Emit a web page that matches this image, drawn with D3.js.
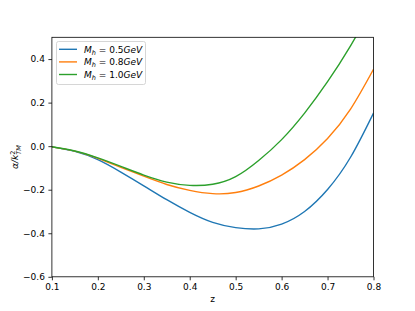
<!DOCTYPE html>
<html><head><meta charset="utf-8">
<script src="https://cdn.jsdelivr.net/npm/d3@7"></script>
<style>body{margin:0;background:#fff}svg{display:block}text{font-family:"DejaVu Sans",sans-serif}</style>
</head><body>
<script>
const zGrid   = [0.10,0.15,0.20,0.25,0.30,0.35,0.40,0.45,0.50,0.55,0.60,0.65,0.70,0.75,0.80];
const vBlue   = [-0.003,-0.024,-0.062,-0.119,-0.182,-0.246,-0.304,-0.350,-0.374,-0.380,-0.358,-0.300,-0.199,-0.051,0.152];
const vOrange = [-0.003,-0.023,-0.056,-0.097,-0.138,-0.176,-0.203,-0.218,-0.213,-0.183,-0.133,-0.062,0.035,0.170,0.353];
const vGreen  = [-0.003,-0.022,-0.054,-0.093,-0.133,-0.165,-0.180,-0.175,-0.140,-0.066,0.030,0.152,0.296,0.461,0.645];
const seriesNames = ["0.5","0.8","1.0"];
const colors = ["#1f77b4","#ff7f0e","#2ca02c"];
const xTicks = [0.1,0.2,0.3,0.4,0.5,0.6,0.7,0.8];
const yTicks = [-0.6,-0.4,-0.2,0.0,0.2,0.4];

const W=415,H=311, L=51.9, R=373.5, T=37.3, B=276.8;
const svg=d3.select("body").append("svg").attr("width",W).attr("height",H);
const x=d3.scaleLinear().domain([0.1,0.8]).range([L,R]);
const y=d3.scaleLinear().domain([-0.6,0.5]).range([B,T]);

svg.append("clipPath").attr("id","clip").append("rect").attr("x",L).attr("y",T).attr("width",R-L).attr("height",B-T);

const fmt=d=>d3.format(".1f")(d).replace("-","\u2212");
const gx=svg.append("g").attr("transform",`translate(0,${B})`)
  .call(d3.axisBottom(x).tickValues(xTicks).tickFormat(fmt).tickSize(3.5).tickPadding(3.5));
const gy=svg.append("g").attr("transform",`translate(${L},0)`)
  .call(d3.axisLeft(y).tickValues(yTicks).tickFormat(fmt).tickSize(3.5).tickPadding(3.5));
[gx,gy].forEach(g=>{g.select(".domain").remove();g.selectAll("text").attr("font-size",9).attr("fill","#000").style("font-family","DejaVu Sans");g.selectAll("line").attr("stroke","#000").attr("stroke-width",0.8);});

const data=[vBlue,vOrange,vGreen].map(v=>zGrid.map((z,i)=>[z,v[i]]));
const line=d3.line().x(d=>x(d[0])).y(d=>y(d[1])).curve(d3.curveNatural);
const gl=svg.append("g").attr("clip-path","url(#clip)");
data.forEach((d,i)=>gl.append("path").attr("d",line(d)).attr("fill","none").attr("stroke",colors[i]).attr("stroke-width",1.4));

svg.append("rect").attr("x",L).attr("y",T).attr("width",R-L).attr("height",B-T).attr("fill","none").attr("stroke","#000").attr("stroke-width",0.8);

// labels
svg.append("text").attr("x",(L+R)/2).attr("y",302).attr("text-anchor","middle").attr("font-size",9).text("z");
const yl=svg.append("text").attr("transform",`translate(18,${(T+B)/2}) rotate(-90)`).attr("text-anchor","middle").attr("font-size",9);
yl.append("tspan").attr("font-style","italic").text("α/k");
yl.append("tspan").attr("font-size",6.5).attr("dy",-3.5).text("2");
yl.append("tspan").attr("font-size",6.5).attr("font-style","italic").attr("dy",6).attr("dx",-4).text("TM");

// legend
const lg=svg.append("g");
lg.append("rect").attr("x",56.5).attr("y",41.5).attr("width",89).attr("height",43).attr("rx",2)
  .attr("fill","#fff").attr("fill-opacity",0.8).attr("stroke","#cccccc").attr("stroke-width",0.8);
seriesNames.forEach((n,i)=>{
  const yy=49.3+i*12.6;
  lg.append("line").attr("x1",59).attr("x2",77).attr("y1",yy).attr("y2",yy).attr("stroke",colors[i]).attr("stroke-width",1.4);
  const t=lg.append("text").attr("x",84).attr("y",yy+3.2).attr("font-size",9);
  t.append("tspan").attr("font-style","italic").text("M");
  t.append("tspan").attr("font-style","italic").attr("font-size",6.5).attr("dy",2).text("h");
  t.append("tspan").attr("dy",-2).text(" = "+n);
  t.append("tspan").attr("font-style","italic").text("GeV");
});
</script>
</body></html>
